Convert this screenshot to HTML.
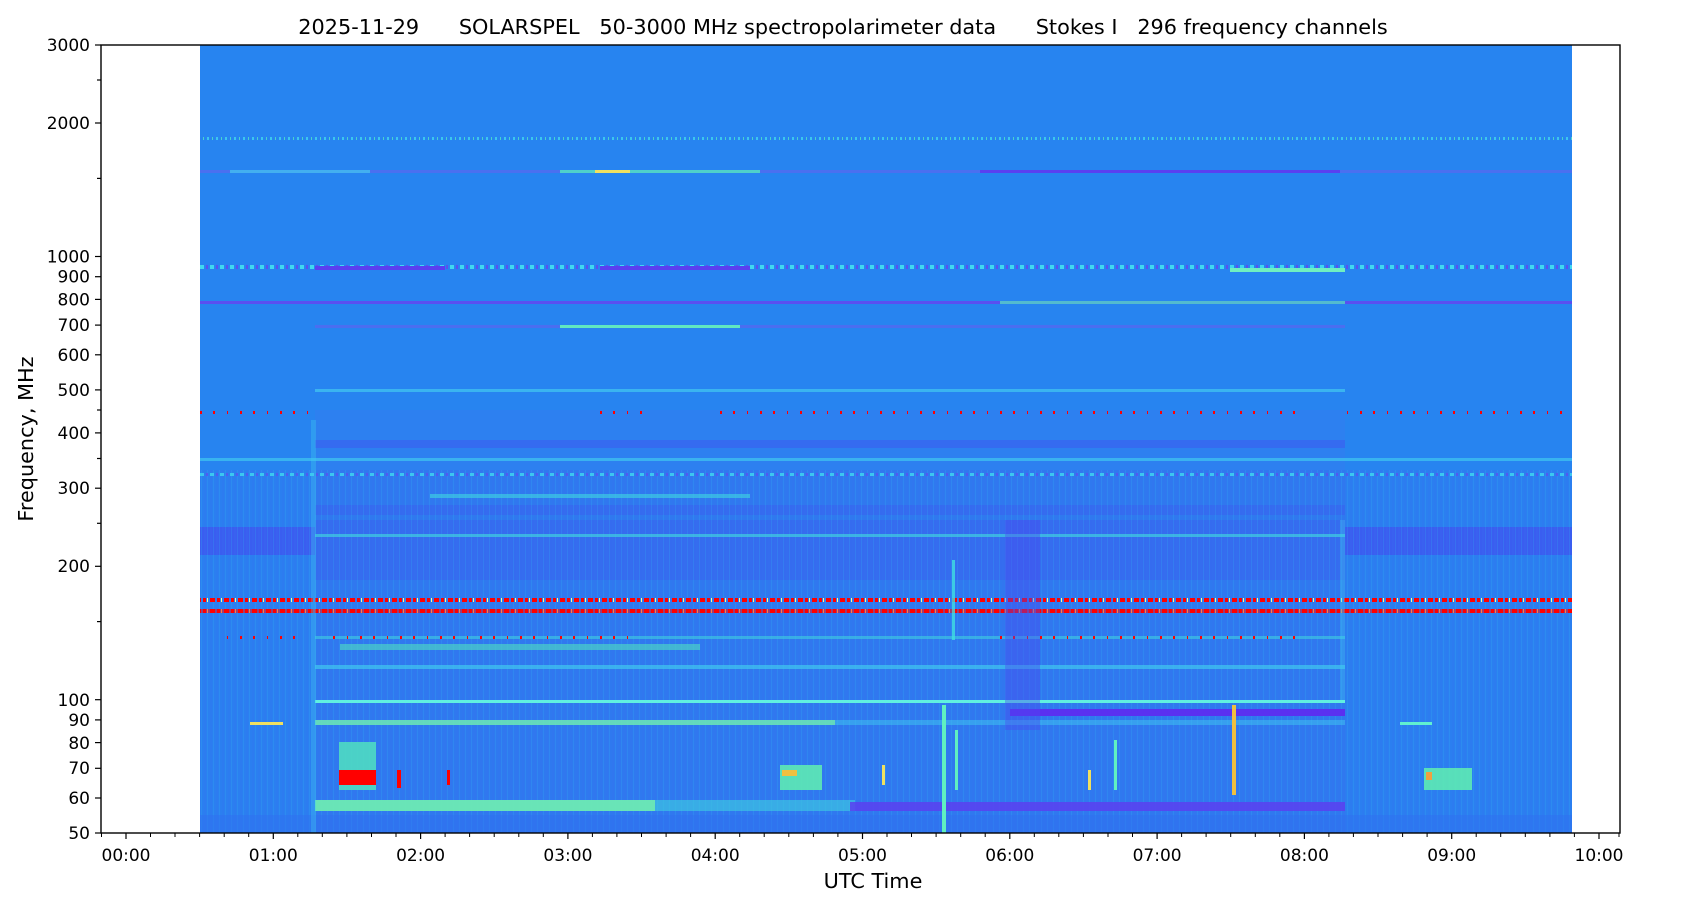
<!DOCTYPE html>
<html><head><meta charset="utf-8"><style>
html,body{margin:0;padding:0;background:#fff;}
svg{display:block;font-family:"DejaVu Sans","Liberation Sans",sans-serif;}
</style></head><body>
<svg width="1687" height="906" viewBox="0 0 1687 906" xmlns="http://www.w3.org/2000/svg">
<defs>
<pattern id="vt" width="6" height="400" patternUnits="userSpaceOnUse">
<rect x="0" y="0" width="2" height="400" fill="#3a6ef0" opacity="0.18"/>
<rect x="3" y="0" width="1" height="400" fill="#30b8f0" opacity="0.22"/>
</pattern>
<pattern id="rd" width="14" height="4" patternUnits="userSpaceOnUse">
<rect x="0" y="0" width="5" height="4" fill="#f00"/><rect x="7" y="0" width="3" height="4" fill="#f00"/><rect x="11" y="0" width="1" height="4" fill="#ff8"/>
</pattern>
<pattern id="rd2" width="40" height="4" patternUnits="userSpaceOnUse">
<rect x="0" y="0" width="2" height="4" fill="#f00"/><rect x="13" y="0" width="2" height="4" fill="#f00"/><rect x="27" y="0" width="1" height="4" fill="#f00"/>
</pattern>
<pattern id="cd" width="10" height="3" patternUnits="userSpaceOnUse">
<rect x="0" y="0" width="4" height="3" fill="#40d8f0"/><rect x="6" y="0" width="2" height="3" fill="#5a4ff0"/>
</pattern>
<pattern id="cd2" width="9" height="3" patternUnits="userSpaceOnUse">
<rect x="0" y="0" width="2" height="3" fill="#40d8f0"/><rect x="5" y="0" width="1" height="3" fill="#50e8c0"/>
</pattern>
</defs>
<!-- data -->
<rect x="200" y="45" width="1372" height="788" fill="#2784f0"/>
<rect x="200" y="470" width="1372" height="363" fill="#2b7ff0"/>
<rect x="315" y="470" width="1030" height="363" fill="#2f79ef"/>
<rect x="200" y="527" width="115" height="28" fill="#3a5ef0"/>
<rect x="1345" y="527" width="227" height="28" fill="#3a5ef0"/>
<rect x="315" y="520" width="1030" height="60" fill="#3a64ef" opacity="0.6"/>
<rect x="315" y="410" width="1030" height="60" fill="#2d80f0"/>
<rect x="315" y="440" width="1030" height="8" fill="#3a5ef0" opacity="0.6"/>
<rect x="315" y="505" width="1030" height="10" fill="#3a62ef" opacity="0.6"/>
<rect x="200" y="470" width="1372" height="363" fill="url(#vt)"/>
<!-- horizontal lines -->
<rect x="200" y="137" width="1372" height="3" fill="url(#cd2)" opacity="0.8"/>
<rect x="200" y="170" width="1372" height="3" fill="#4a70f0"/>
<rect x="230" y="170" width="140" height="3" fill="#40d8f0" opacity="0.6"/>
<rect x="560" y="170" width="200" height="3" fill="#50e8c0" opacity="0.8"/>
<rect x="595" y="170" width="35" height="3" fill="#f0e060"/>
<rect x="980" y="170" width="360" height="3" fill="#5a40f0"/>
<rect x="200" y="265" width="1372" height="4" fill="url(#cd)"/>
<rect x="315" y="266" width="130" height="4" fill="#5a3ff0"/>
<rect x="600" y="266" width="150" height="4" fill="#5a3ff0"/>
<rect x="1230" y="268" width="115" height="4" fill="#70f0c0"/>
<rect x="200" y="301" width="1372" height="3" fill="#5a4ff0"/>
<rect x="1000" y="301" width="345" height="3" fill="#50e8c0" opacity="0.7"/>
<rect x="315" y="325" width="1030" height="3" fill="#4a6ef0"/>
<rect x="560" y="325" width="180" height="3" fill="#60e8c0"/>
<rect x="315" y="389" width="1030" height="3" fill="#40c0f0" opacity="0.8"/>
<rect x="200" y="411" width="120" height="3" fill="url(#rd2)"/>
<rect x="590" y="411" width="60" height="3" fill="url(#rd2)"/>
<rect x="720" y="411" width="220" height="3" fill="url(#rd2)"/>
<rect x="940" y="411" width="360" height="3" fill="url(#rd2)"/>
<rect x="1340" y="411" width="230" height="3" fill="url(#rd2)"/>
<rect x="200" y="458" width="1372" height="3" fill="#40c8f0" opacity="0.7"/>
<rect x="200" y="473" width="1372" height="3" fill="url(#cd)" opacity="0.8"/>
<rect x="430" y="494" width="320" height="4" fill="#40d8e0" opacity="0.6"/>
<rect x="315" y="534" width="1030" height="3" fill="#40d0e0" opacity="0.7"/>
<rect x="200" y="598" width="1372" height="4" fill="url(#rd)"/>
<rect x="200" y="609" width="1372" height="4" fill="url(#rd)"/>
<rect x="200" y="609" width="1372" height="4" fill="#f00" opacity="0.5"/>
<rect x="315" y="636" width="1030" height="3" fill="#40d0e0" opacity="0.6"/>
<rect x="220" y="636" width="80" height="3" fill="url(#rd2)"/>
<rect x="330" y="636" width="300" height="3" fill="url(#rd2)"/>
<rect x="1000" y="636" width="300" height="3" fill="url(#rd2)"/>
<rect x="340" y="644" width="360" height="6" fill="#50e0c0" opacity="0.6"/>
<rect x="315" y="665" width="1030" height="4" fill="#40c8f0" opacity="0.7"/>
<rect x="315" y="700" width="1030" height="3" fill="#60f0e0"/>
<rect x="1010" y="709" width="335" height="7" fill="#5a30f0"/>
<rect x="315" y="720" width="520" height="5" fill="#70f0b0" opacity="0.8"/>
<rect x="835" y="720" width="510" height="5" fill="#40c8f0" opacity="0.5"/>
<rect x="250" y="722" width="33" height="3" fill="#f0e060"/>
<rect x="1400" y="722" width="32" height="3" fill="#60f0d0"/>
<rect x="315" y="800" width="340" height="11" fill="#70f0b0" opacity="0.9"/>
<rect x="655" y="800" width="200" height="11" fill="#40d0e0" opacity="0.6"/>
<rect x="850" y="802" width="495" height="9" fill="#5a3ff0" opacity="0.85"/>
<rect x="200" y="815" width="1372" height="18" fill="#3070f0" opacity="0.5"/>
<!-- transitions -->
<rect x="311" y="420" width="5" height="413" fill="#40c8f0" opacity="0.35"/>
<rect x="1340" y="520" width="5" height="180" fill="#40c8f0" opacity="0.35"/>
<rect x="1005" y="520" width="35" height="210" fill="#4a48f0" opacity="0.4"/>
<!-- bursts -->
<rect x="339" y="742" width="37" height="48" fill="#50e0c0" opacity="0.85"/>
<rect x="339" y="770" width="37" height="15" fill="#f00"/>
<rect x="397" y="770" width="4" height="18" fill="#f00"/>
<rect x="447" y="770" width="3" height="15" fill="#f00"/>
<rect x="780" y="765" width="42" height="25" fill="#60f0b0" opacity="0.85"/>
<rect x="782" y="770" width="15" height="6" fill="#f0c040"/>
<rect x="1424" y="768" width="48" height="22" fill="#60f0b0" opacity="0.85"/>
<rect x="1426" y="772" width="6" height="8" fill="#f0a040"/>
<rect x="942" y="705" width="4" height="128" fill="#60f0c0"/>
<rect x="955" y="730" width="3" height="60" fill="#60f0c0"/>
<rect x="1232" y="705" width="4" height="90" fill="#f0c040"/>
<rect x="1114" y="740" width="3" height="50" fill="#60f0c0"/>
<rect x="1088" y="770" width="3" height="20" fill="#f0e060"/>
<rect x="882" y="765" width="3" height="20" fill="#f0e060"/>
<rect x="952" y="560" width="3" height="80" fill="#40e0e0" opacity="0.8"/>
<!-- axes -->
<rect x="101" y="45" width="1519" height="788" fill="none" stroke="#000" stroke-width="1.4"/>
<g stroke="#000" stroke-width="1.2">
<line x1="101" y1="45" x2="95" y2="45"/><line x1="101" y1="80" x2="97" y2="80"/>
<line x1="101" y1="123" x2="95" y2="123"/><line x1="101" y1="178.4" x2="97" y2="178.4"/>
<line x1="101" y1="256.5" x2="95" y2="256.5"/><line x1="101" y1="276.7" x2="95" y2="276.7"/>
<line x1="101" y1="299.4" x2="95" y2="299.4"/><line x1="101" y1="325.1" x2="95" y2="325.1"/>
<line x1="101" y1="354.8" x2="95" y2="354.8"/><line x1="101" y1="389.9" x2="95" y2="389.9"/>
<line x1="101" y1="410" x2="97" y2="410"/><line x1="101" y1="432.9" x2="95" y2="432.9"/>
<line x1="101" y1="458.5" x2="97" y2="458.5"/><line x1="101" y1="488.2" x2="95" y2="488.2"/>
<line x1="101" y1="523.3" x2="97" y2="523.3"/><line x1="101" y1="566.3" x2="95" y2="566.3"/>
<line x1="101" y1="621.6" x2="97" y2="621.6"/><line x1="101" y1="699.7" x2="95" y2="699.7"/>
<line x1="101" y1="719.9" x2="95" y2="719.9"/><line x1="101" y1="742.6" x2="95" y2="742.6"/>
<line x1="101" y1="768.3" x2="95" y2="768.3"/><line x1="101" y1="798" x2="95" y2="798"/>
<line x1="101" y1="833" x2="95" y2="833"/>
</g>
<g stroke="#000" stroke-width="1.2">
<line x1="126" y1="833" x2="126" y2="839"/><line x1="273.3" y1="833" x2="273.3" y2="839"/>
<line x1="420.6" y1="833" x2="420.6" y2="839"/><line x1="567.9" y1="833" x2="567.9" y2="839"/>
<line x1="715.2" y1="833" x2="715.2" y2="839"/><line x1="862.5" y1="833" x2="862.5" y2="839"/>
<line x1="1009.8" y1="833" x2="1009.8" y2="839"/><line x1="1157.1" y1="833" x2="1157.1" y2="839"/>
<line x1="1304.4" y1="833" x2="1304.4" y2="839"/><line x1="1451.7" y1="833" x2="1451.7" y2="839"/>
<line x1="1599" y1="833" x2="1599" y2="839"/>
</g>
<g stroke="#000" stroke-width="1">
<line x1="101.5" y1="833" x2="101.5" y2="837"/>
<line x1="150.5" y1="833" x2="150.5" y2="837"/><line x1="175" y1="833" x2="175" y2="837"/><line x1="199.6" y1="833" x2="199.6" y2="837"/><line x1="224.2" y1="833" x2="224.2" y2="837"/><line x1="248.7" y1="833" x2="248.7" y2="837"/>
<line x1="297.8" y1="833" x2="297.8" y2="837"/><line x1="322.3" y1="833" x2="322.3" y2="837"/><line x1="346.9" y1="833" x2="346.9" y2="837"/><line x1="371.5" y1="833" x2="371.5" y2="837"/><line x1="396" y1="833" x2="396" y2="837"/>
<line x1="445.1" y1="833" x2="445.1" y2="837"/><line x1="469.6" y1="833" x2="469.6" y2="837"/><line x1="494.2" y1="833" x2="494.2" y2="837"/><line x1="518.8" y1="833" x2="518.8" y2="837"/><line x1="543.3" y1="833" x2="543.3" y2="837"/>
<line x1="592.4" y1="833" x2="592.4" y2="837"/><line x1="616.9" y1="833" x2="616.9" y2="837"/><line x1="641.5" y1="833" x2="641.5" y2="837"/><line x1="666.1" y1="833" x2="666.1" y2="837"/><line x1="690.6" y1="833" x2="690.6" y2="837"/>
<line x1="739.7" y1="833" x2="739.7" y2="837"/><line x1="764.2" y1="833" x2="764.2" y2="837"/><line x1="788.8" y1="833" x2="788.8" y2="837"/><line x1="813.4" y1="833" x2="813.4" y2="837"/><line x1="837.9" y1="833" x2="837.9" y2="837"/>
<line x1="887" y1="833" x2="887" y2="837"/><line x1="911.5" y1="833" x2="911.5" y2="837"/><line x1="936.1" y1="833" x2="936.1" y2="837"/><line x1="960.7" y1="833" x2="960.7" y2="837"/><line x1="985.2" y1="833" x2="985.2" y2="837"/>
<line x1="1034.3" y1="833" x2="1034.3" y2="837"/><line x1="1058.8" y1="833" x2="1058.8" y2="837"/><line x1="1083.4" y1="833" x2="1083.4" y2="837"/><line x1="1108" y1="833" x2="1108" y2="837"/><line x1="1132.5" y1="833" x2="1132.5" y2="837"/>
<line x1="1181.6" y1="833" x2="1181.6" y2="837"/><line x1="1206.1" y1="833" x2="1206.1" y2="837"/><line x1="1230.7" y1="833" x2="1230.7" y2="837"/><line x1="1255.3" y1="833" x2="1255.3" y2="837"/><line x1="1279.8" y1="833" x2="1279.8" y2="837"/>
<line x1="1328.9" y1="833" x2="1328.9" y2="837"/><line x1="1353.4" y1="833" x2="1353.4" y2="837"/><line x1="1378" y1="833" x2="1378" y2="837"/><line x1="1402.6" y1="833" x2="1402.6" y2="837"/><line x1="1427.1" y1="833" x2="1427.1" y2="837"/>
<line x1="1476.2" y1="833" x2="1476.2" y2="837"/><line x1="1500.7" y1="833" x2="1500.7" y2="837"/><line x1="1525.3" y1="833" x2="1525.3" y2="837"/><line x1="1549.9" y1="833" x2="1549.9" y2="837"/><line x1="1574.4" y1="833" x2="1574.4" y2="837"/>
<line x1="1619" y1="833" x2="1619" y2="837"/>
</g>
<g font-size="17" fill="#000" text-anchor="end">
<text x="90" y="51">3000</text><text x="90" y="129">2000</text><text x="90" y="262.5">1000</text>
<text x="90" y="282.5">900</text><text x="90" y="305.5">800</text><text x="90" y="331">700</text>
<text x="90" y="361">600</text><text x="90" y="396">500</text><text x="90" y="439">400</text>
<text x="90" y="494">300</text><text x="90" y="572">200</text><text x="90" y="706">100</text>
<text x="90" y="726">90</text><text x="90" y="749">80</text><text x="90" y="774">70</text>
<text x="90" y="804">60</text><text x="90" y="839">50</text>
</g>
<g font-size="17" fill="#000" text-anchor="middle">
<text x="126" y="861">00:00</text><text x="273.3" y="861">01:00</text><text x="420.6" y="861">02:00</text>
<text x="567.9" y="861">03:00</text><text x="715.2" y="861">04:00</text><text x="862.5" y="861">05:00</text>
<text x="1009.8" y="861">06:00</text><text x="1157.1" y="861">07:00</text><text x="1304.4" y="861">08:00</text>
<text x="1451.7" y="861">09:00</text><text x="1599" y="861">10:00</text>
</g>
<text x="873" y="888" font-size="20.8" text-anchor="middle">UTC Time</text>
<text transform="translate(33,439) rotate(-90)" font-size="20.8" text-anchor="middle">Frequency, MHz</text>
<text x="843" y="34" font-size="20.8" text-anchor="middle" style="white-space:pre" xml:space="preserve">2025-11-29      SOLARSPEL   50-3000 MHz spectropolarimeter data      Stokes I   296 frequency channels</text>
</svg>
</body></html>
